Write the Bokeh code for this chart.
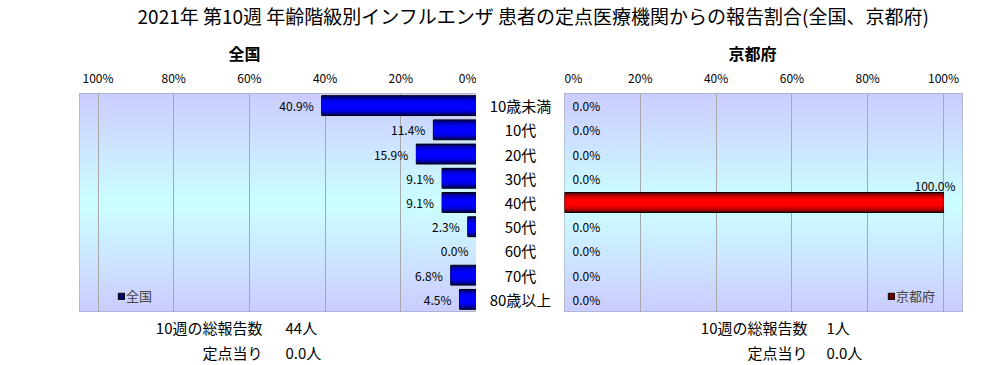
import numpy as np
from bokeh.plotting import figure
from bokeh.models import (ColumnDataSource, FactorRange, Range1d, FixedTicker,
                          PrintfTickFormatter, Label, Legend, LegendItem)
from bokeh.layouts import column, row
from bokeh.core.properties import value
from bokeh.embed import file_html
from bokeh.resources import INLINE

# ---------------- data ----------------
title_text = "2021年 第10週 年齢階級別インフルエンザ 患者の定点医療機関からの報告割合(全国、京都府)"
categories = ["10歳未満", "10代", "20代", "30代", "40代", "50代", "60代", "70代", "80歳以上"]
national_pct = [40.9, 11.4, 15.9, 9.1, 9.1, 2.3, 0.0, 6.8, 4.5]
kyoto_pct = [0.0, 0.0, 0.0, 0.0, 100.0, 0.0, 0.0, 0.0, 0.0]
pct_ticks = [0, 20, 40, 60, 80, 100]
panel_names = ["全国", "京都府"]
total_label = "10週の総報告数"
per_site_label = "定点当り"
national_total = "44人"
national_per_site = "0.0人"
kyoto_total = "1人"
kyoto_per_site = "0.0人"

# ---------------- style / geometry ----------------
FONT = "Noto Sans CJK JP"
TOTAL_W = 1000
TOP_H = 64
BOTTOM_H = 53
ROW_BORDER_TOP = 29
FRAME_H = 218
ROW_BORDER_BOTTOM = 1
ROW_H = ROW_BORDER_TOP + FRAME_H + ROW_BORDER_BOTTOM
LEFT_W, LEFT_BORDER = 476, 79
MID_W = 88
RIGHT_W = TOTAL_W - LEFT_W - MID_W
RIGHT_BORDER = RIGHT_W - 398
X_MAX_LEFT = 104.9
X_MAX_RIGHT = 105.0
BAR_LAYERS_BLUE = [(0.82, "#000070"), (0.68, "#0000a8"), (0.52, "#0000dc"), (0.34, "#0000ff")]
BAR_LAYERS_RED = [(0.82, "#700000"), (0.68, "#a80000"), (0.52, "#dc0000"), (0.34, "#ff0000")]
BG_EDGE = np.array([204, 204, 255])
BG_MID = np.array([204, 255, 255])
N_BANDS = 40

y_factors = categories[::-1]


def bg_bands(xmax):
    n = len(categories)
    edges = np.linspace(0, n, N_BANDS + 1)
    centers = (edges[:-1] + edges[1:]) / 2
    t = np.abs(centers - n / 2) / (n / 2)
    cols = []
    for tt in t:
        c = BG_MID + (BG_EDGE - BG_MID) * tt
        cols.append("#%02x%02x%02x" % tuple(int(round(v)) for v in c))
    return dict(left=[0] * N_BANDS, right=[xmax] * N_BANDS,
                bottom=list(edges[:-1]), top=list(edges[1:]), color=cols)


def text_fig(height):
    f = figure(width=TOTAL_W, height=height, toolbar_location=None, output_backend="svg",
               x_axis_location=None, y_axis_location=None, min_border=0,
               x_range=Range1d(0, 1), y_range=Range1d(0, 1))
    f.outline_line_color = None
    f.grid.grid_line_color = None
    return f


def add_label(f, x, y, text, align="left", size="15px", bold=False):
    f.add_layout(Label(x=x, y=y, x_units="screen", y_units="screen", text=text,
                       text_align=align, text_baseline="middle", text_font=FONT,
                       text_font_size=size, text_color="black",
                       text_font_style="bold" if bold else "normal"))


def make_panel(vals, xrange, width, bl, br, layers):
    p = figure(width=width, height=ROW_H, x_range=xrange,
               y_range=FactorRange(factors=y_factors, range_padding=0),
               x_axis_location="above", y_axis_location=None,
               toolbar_location=None, output_backend="svg",
               min_border_left=bl, min_border_right=br,
               min_border_top=ROW_BORDER_TOP, min_border_bottom=ROW_BORDER_BOTTOM)
    xmax = max(xrange.start, xrange.end)
    p.quad(left="left", right="right", bottom="bottom", top="top", color="color",
           source=ColumnDataSource(bg_bands(xmax)), level="image")
    src = ColumnDataSource(dict(cat=categories, v=vals,
                                la=[1.0 if v > 0 else 0.0 for v in vals]))
    rends = []
    for i, (h, c) in enumerate(layers):
        if i == 0:
            r = p.hbar(y="cat", left=0, right="v", height=h, fill_color=c,
                       line_color="black", line_alpha="la", line_width=1, source=src)
        else:
            r = p.hbar(y="cat", left=0, right="v", height=h, fill_color=c,
                       line_color=None, source=src)
        rends.append(r)
    ax = p.xaxis[0]
    ax.ticker = FixedTicker(ticks=pct_ticks)
    ax.formatter = PrintfTickFormatter(format="%d%%")
    ax.axis_line_color = None
    ax.major_tick_line_color = None
    ax.minor_tick_line_color = None
    ax.major_tick_out = 0
    ax.major_label_standoff = 8
    ax.major_label_text_font = FONT
    ax.major_label_text_font_size = "12px"
    ax.major_label_text_color = "black"
    p.xgrid.ticker = FixedTicker(ticks=pct_ticks)
    p.xgrid.grid_line_color = "#a8a8a8"
    p.ygrid.grid_line_color = None
    p.outline_line_color = "#888888"
    p.outline_line_width = 1
    p.background_fill_color = "white"
    return p, rends


def make_legend(rend, name, idx, loc):
    return Legend(items=[LegendItem(label=value(name), renderers=[rend], index=idx)],
                  location=loc, background_fill_alpha=0, border_line_color=None,
                  padding=0, margin=0, glyph_width=8, glyph_height=8, label_standoff=1,
                  label_text_font=FONT, label_text_font_size="13px", label_height=14)


# ---------- title + panel headers ----------
pt = text_fig(TOP_H)
add_label(pt, 533, TOP_H - 15, title_text, align="center", size="19px")
add_label(pt, 244, TOP_H - 52, panel_names[0], align="center", size="16px", bold=True)
add_label(pt, 752, TOP_H - 52, panel_names[1], align="center", size="16px", bold=True)

# ---------- left (national) ----------
pl, lrends = make_panel(national_pct, Range1d(X_MAX_LEFT, 0), LEFT_W, LEFT_BORDER, 0,
                        BAR_LAYERS_BLUE)
lsrc = ColumnDataSource(dict(cat=categories, v=national_pct,
                             lbl=["%.1f%%" % v for v in national_pct]))
pl.text(x="v", y="cat", text="lbl", source=lsrc, text_align="right", text_baseline="middle",
        x_offset=-8, text_font=value(FONT), text_font_size="12px", text_color="black")
first_nz = next(i for i, v in enumerate(national_pct) if v > 0)
pl.add_layout(make_legend(lrends[0], panel_names[0], first_nz, (38, 6)), "center")

# ---------- middle (categories) ----------
pm = figure(width=MID_W, height=ROW_H, x_range=Range1d(0, 1),
            y_range=FactorRange(factors=y_factors, range_padding=0),
            x_axis_location=None, y_axis_location=None, toolbar_location=None,
            output_backend="svg", min_border_left=0, min_border_right=0,
            min_border_top=ROW_BORDER_TOP, min_border_bottom=ROW_BORDER_BOTTOM)
pm.outline_line_color = None
pm.grid.grid_line_color = None
pm.text(x=[0.5] * len(categories), y=categories, text=categories, text_align="center",
        text_baseline="middle", text_font=value(FONT), text_font_size="15px",
        text_color="black")

# ---------- right (Kyoto) ----------
pr, rrends = make_panel(kyoto_pct, Range1d(0, X_MAX_RIGHT), RIGHT_W, 0, RIGHT_BORDER,
                        BAR_LAYERS_RED)
inside = [v < 90 for v in kyoto_pct]
rsrc_in = ColumnDataSource(dict(
    cat=[c for c, m in zip(categories, inside) if m],
    v=[v for v, m in zip(kyoto_pct, inside) if m],
    lbl=["%.1f%%" % v for v, m in zip(kyoto_pct, inside) if m]))
rsrc_top = ColumnDataSource(dict(
    cat=[c for c, m in zip(categories, inside) if not m],
    v=[v for v, m in zip(kyoto_pct, inside) if not m],
    lbl=["%.1f%%" % v for v, m in zip(kyoto_pct, inside) if not m]))
pr.text(x="v", y="cat", text="lbl", source=rsrc_in, text_align="left", text_baseline="middle",
        x_offset=8, text_font=value(FONT), text_font_size="12px", text_color="black")
pr.text(x="v", y="cat", text="lbl", source=rsrc_top, text_align="right",
        text_baseline="middle", x_offset=12, y_offset=-17, text_font=value(FONT),
        text_font_size="12px", text_color="black")
k_nz = next(i for i, v in enumerate(kyoto_pct) if v > 0)
pr.add_layout(make_legend(rrends[0], panel_names[1], k_nz, (323, 6)), "center")

# ---------- bottom summary texts ----------
pb = text_fig(BOTTOM_H)
add_label(pb, 262, BOTTOM_H - 15, total_label, align="right")
add_label(pb, 285, BOTTOM_H - 15, national_total)
add_label(pb, 262, BOTTOM_H - 40, per_site_label, align="right")
add_label(pb, 285, BOTTOM_H - 40, national_per_site)
add_label(pb, 807, BOTTOM_H - 15, total_label, align="right")
add_label(pb, 826, BOTTOM_H - 15, kyoto_total)
add_label(pb, 807, BOTTOM_H - 40, per_site_label, align="right")
add_label(pb, 826, BOTTOM_H - 40, kyoto_per_site)

layout = column(pt, row(pl, pm, pr), pb)
open("out.html", "w").write(file_html(layout, INLINE))
